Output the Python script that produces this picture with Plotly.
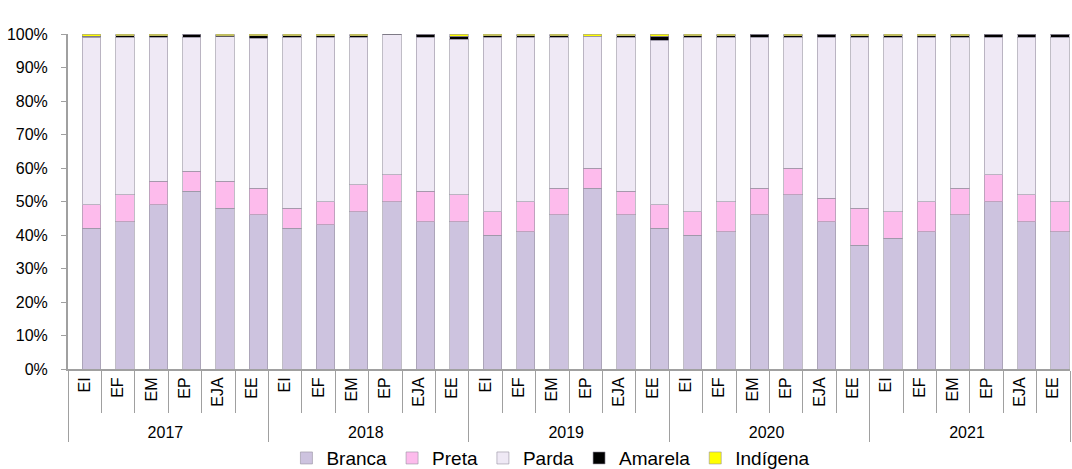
import plotly.graph_objects as go

years = ["2017", "2018", "2019", "2020", "2021"]
stages = ["EI", "EF", "EM", "EP", "EJA", "EE"]

branca = [42, 44, 49, 53, 48, 46,
          42, 43, 47, 50, 44, 44,
          40, 41, 46, 54, 46, 42,
          40, 41, 46, 52, 44, 37,
          39, 41, 46, 50, 44, 41]
preta = [7, 8, 7, 6, 8, 8,
         6, 7, 8, 8, 9, 8,
         7, 9, 8, 6, 7, 7,
         7, 9, 8, 8, 7, 11,
         8, 9, 8, 8, 8, 9]
amarela = [0.4, 0.5, 0.4, 0.8, 0.3, 0.8,
           0.4, 0.5, 0.4, 0.1, 0.8, 1.0,
           0.5, 0.5, 0.5, 0.1, 0.5, 1.2,
           0.5, 0.5, 0.8, 0.4, 0.8, 0.5,
           0.5, 0.5, 0.5, 0.8, 0.8, 0.8]
indigena = [0.6, 0.5, 0.5, 0.1, 0.5, 0.5,
            0.5, 0.5, 0.5, 0.1, 0.1, 0.6,
            0.5, 0.5, 0.5, 0.6, 0.5, 0.7,
            0.5, 0.5, 0.1, 0.5, 0.1, 0.5,
            0.5, 0.5, 0.5, 0.1, 0.1, 0.1]
parda = [round(100 - b - p - a - i, 2) for b, p, a, i in zip(branca, preta, amarela, indigena)]

x = [[y for y in years for _ in stages], [s for _ in years for s in stages]]

series = [("Branca", branca, "#CDC3DF"),
          ("Preta", preta, "#FDBBEC"),
          ("Parda", parda, "#EFE9F5"),
          ("Amarela", amarela, "#000000"),
          ("Indígena", indigena, "#FFFF00")]

fig = go.Figure()
for name, vals, col in series:
    fig.add_trace(go.Bar(x=x, y=vals, name=name, marker_color=col,
                         marker_line=dict(color="rgba(150,145,160,0.6)", width=1),
                         width=0.55, offset=-0.07))

fig.update_layout(
    barmode="stack",
    width=1072, height=469,
    margin=dict(l=68, r=2, t=34, b=100, autoexpand=False),
    plot_bgcolor="white", paper_bgcolor="white",
    font=dict(family="Liberation Sans, Arial", size=15, color="#000000"),
    showlegend=True,
    legend=dict(orientation="h", x=0.218, xanchor="left", y=-0.266, yanchor="middle",
                font=dict(size=19), itemwidth=30, traceorder="normal",
                bgcolor="rgba(0,0,0,0)", itemclick=False),
)
fig.update_yaxes(range=[0, 100], tickvals=list(range(0, 101, 10)),
                 ticktext=[f"{v}%" for v in range(0, 101, 10)],
                 showgrid=False, showline=True, linecolor="#A0A0A0", linewidth=2,
                 ticks="outside", ticklen=5, tickcolor="#A0A0A0",
                 ticklabelstandoff=10, automargin=False,
                 tickfont=dict(size=16), zeroline=False)
fig.update_xaxes(type="multicategory", tickangle=-90, showline=True,
                 linecolor="#A0A0A0", linewidth=2, automargin=False,
                 ticks="outside", tickson="boundaries", ticklen=42, tickcolor="#A0A0A0",
                 showdividers=True, dividercolor="#A0A0A0", dividerwidth=1,
                 tickfont=dict(size=16), showgrid=False)

fig.write_html("out.html", config={"displayModeBar": False},
               post_script="document.body.style.margin='0';document.body.style.overflow='hidden';")
